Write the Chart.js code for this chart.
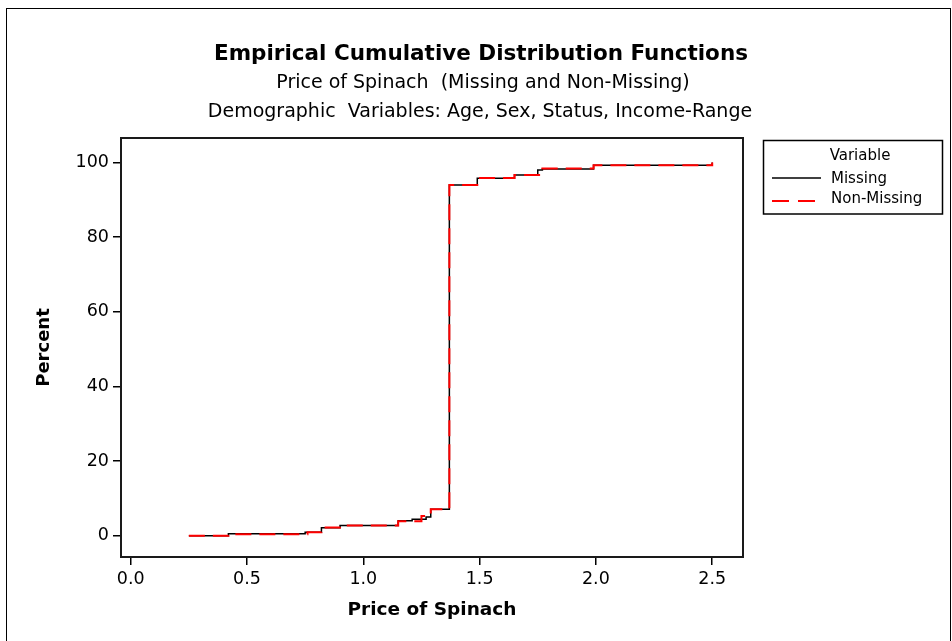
<!DOCTYPE html>
<html>
<head>
<meta charset="utf-8">
<title>Empirical Cumulative Distribution Functions</title>
<script src="https://cdn.jsdelivr.net/npm/chart.js@4.4.1/dist/chart.umd.min.js"></script>
<style>
  html, body { margin: 0; padding: 0; background: #fff; }
  #wrap { width: 952px; height: 641px; }
</style>
</head>
<body>
<div id="wrap"><canvas id="ecdfChart" width="952" height="641"></canvas></div>
<script>
// ===== Data =====
const missingPrice    = [0.25, 0.42, 0.75, 0.82, 0.90, 1.15, 1.21, 1.27, 1.29, 1.37, 1.49, 1.65, 1.75, 1.77, 1.99, 2.50];
const missingPercent  = [0.0,  0.5,  0.9,  2.1,  2.7,  4.0,  4.4,  5.0,  7.1,  94.0, 95.8, 96.7, 98.0, 98.3, 99.3, 100];
const nonMissingPrice   = [0.25, 0.42, 0.76, 0.82, 0.90, 1.15, 1.25, 1.29, 1.37, 1.49, 1.65, 1.77, 1.99, 2.50];
const nonMissingPercent = [0.0,  0.4,  0.9,  2.2,  2.7,  3.9,  5.3,  7.1,  94.0, 95.9, 96.7, 98.4, 99.3, 100];

const seriesNames = ["Missing", "Non-Missing"];
const xTickValues = [0, 0.5, 1.0, 1.5, 2.0, 2.5];
const yTickValues = [0, 20, 40, 60, 80, 100];

const chartTitle = "Empirical Cumulative Distribution Functions";
const subTitles = [
  "Price of Spinach  (Missing and Non-Missing)",
  "Demographic  Variables: Age, Sex, Status, Income-Range"
];
const xAxisTitle = "Price of Spinach";
const yAxisTitle = "Percent";
const legendTitle = "Variable";

const FONT = "'DejaVu Sans', Verdana, sans-serif";

// pairs -> points
const toPoints = (xs, ys) => xs.map((x, i) => ({ x: x, y: ys[i] }));

// ===== Decorations: titles, frame, legend box =====
const decorPlugin = {
  id: "decor",
  afterDraw(chart) {
    const c = chart.ctx;
    const a = chart.chartArea;
    c.save();

    // outer figure border
    c.strokeStyle = "#000";
    c.lineWidth = 1;
    c.strokeRect(6.5, 8.5, 944, 700);

    // titles
    c.fillStyle = "#000";
    c.textAlign = "center";
    c.textBaseline = "alphabetic";
    c.font = "bold 21.5px " + FONT;
    c.fillText(chartTitle, 481, 60);
    c.font = "19px " + FONT;
    c.fillText(subTitles[0], 483, 88);
    c.fillText(subTitles[1], 480, 117);

    // plot frame
    c.strokeStyle = "#1a1a1a";
    c.lineWidth = 2;
    c.strokeRect(a.left, a.top, a.right - a.left, a.bottom - a.top);

    // legend
    c.lineWidth = 1.5;
    c.strokeStyle = "#000";
    c.strokeRect(763.5, 140.5, 179, 73.5);
    c.font = "15px " + FONT;
    c.textBaseline = "middle";
    c.textAlign = "center";
    c.fillText(legendTitle, 860, 156);
    c.textAlign = "left";
    c.fillText(seriesNames[0], 831, 179);
    c.fillText(seriesNames[1], 831, 199);

    c.beginPath();
    c.strokeStyle = "#000";
    c.lineWidth = 1.5;
    c.moveTo(772, 178);
    c.lineTo(821, 178);
    c.stroke();

    c.beginPath();
    c.strokeStyle = "#ff0000";
    c.lineWidth = 2;
    c.setLineDash([17, 9]);
    c.moveTo(772, 201);
    c.lineTo(821, 201);
    c.stroke();

    c.restore();
  }
};

// ===== Chart =====
const ctx = document.getElementById("ecdfChart").getContext("2d");
new Chart(ctx, {
  type: "line",
  data: {
    datasets: [
      {
        label: seriesNames[1],
        data: toPoints(nonMissingPrice, nonMissingPercent),
        borderColor: "#ff0000",
        borderWidth: 2,
        borderDash: [16, 8],
        stepped: true,
        pointRadius: 0,
        fill: false,
        order: 0
      },
      {
        label: seriesNames[0],
        data: toPoints(missingPrice, missingPercent),
        borderColor: "#000000",
        borderWidth: 1.5,
        stepped: true,
        pointRadius: 0,
        fill: false,
        order: 1
      }
    ]
  },
  options: {
    responsive: false,
    animation: false,
    layout: { padding: { top: 138, right: 209, left: 0, bottom: 0 } },
    plugins: {
      legend: { display: false },
      title: { display: false },
      tooltip: { enabled: false }
    },
    scales: {
      x: {
        type: "linear",
        min: -0.0417,
        max: 2.6324,
        afterFit: (scale) => { scale.height = 84; },
        afterBuildTicks: (scale) => { scale.ticks = xTickValues.map(v => ({ value: v })); },
        border: { display: false },
        grid: { drawOnChartArea: false, drawTicks: true, tickLength: 8, color: "#000", lineWidth: 1.5 },
        ticks: {
          color: "#000",
          padding: 4,
          maxRotation: 0,
          font: { family: FONT, size: 17.5 },
          callback: (v) => Number(v).toFixed(1)
        },
        title: {
          display: true,
          text: xAxisTitle,
          color: "#000",
          font: { family: FONT, size: 18.5, weight: "bold" },
          padding: { top: 0, bottom: 20 }
        }
      },
      y: {
        type: "linear",
        min: -5.71,
        max: 106.6,
        afterFit: (scale) => { scale.width = 121; },
        afterBuildTicks: (scale) => { scale.ticks = yTickValues.map(v => ({ value: v })); },
        border: { display: false },
        grid: { drawOnChartArea: false, drawTicks: true, tickLength: 8, color: "#000", lineWidth: 1.5 },
        ticks: {
          color: "#000",
          padding: 4,
          font: { family: FONT, size: 17.5 },
          callback: (v) => String(v)
        },
        title: {
          display: true,
          text: yAxisTitle,
          color: "#000",
          font: { family: FONT, size: 18, weight: "bold" },
          padding: { top: 34, bottom: 0 }
        }
      }
    }
  },
  plugins: [decorPlugin]
});
</script>
</body>
</html>
